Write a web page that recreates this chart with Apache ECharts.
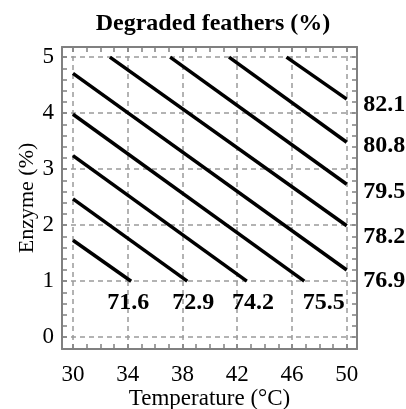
<!DOCTYPE html>
<html>
<head>
<meta charset="utf-8">
<script src="https://cdn.jsdelivr.net/npm/echarts@6/dist/echarts.min.js"></script>
<style>html,body{margin:0;padding:0;background:#fff}#c{width:406px;height:409px}</style>
</head>
<body>
<div id="c"></div>
<script>
// Axis ranges and ticks
var xRange = [29.2, 50.75];
var yRange = [-0.21, 5.18];
var xTickLabels = [30, 34, 38, 42, 46, 50];
var xMinorTicks = [30,31,32,33,34,35,36,37,38,39,40,41,42,43,44,45,46,47,48,49,50];
var yTickLabels = [0, 1, 2, 3, 4, 5];
var yMinorTicks = [0,0.2,0.4,0.6,0.8,1,1.2,1.4,1.6,1.8,2,2.2,2.4,2.6,2.8,3,3.2,3.4,3.6,3.8,4,4.2,4.4,4.6,4.8,5];

// Contour levels and their line end points [temperature, enzyme]
var levels = ['71.6','72.9','74.2','75.5','76.9','78.2','79.5','80.8','82.1'];
var line716 = [[30,1.73],[34.25,1]];
var line729 = [[30,2.47],[38.35,1]];
var line742 = [[30,3.24],[42.7,1]];
var line755 = [[30,3.98],[46.9,1]];
var line769 = [[30,4.71],[50,1.2]];
var line782 = [[32.7,5],[50,1.99]];
var line795 = [[37.1,5],[50,2.73]];
var line808 = [[41.4,5],[50,3.48]];
var line821 = [[45.6,5],[50,4.25]];
var contourLines = [line716,line729,line742,line755,line769,line782,line795,line808,line821];

// Contour label anchor points
var bottomLabelX = [34.04, 38.78, 43.16, 48.33];
var bottomLabelY = [0.61, 0.61, 0.61, 0.61];
var bottomLabelText = ['71.6','72.9','74.2','75.5'];
var rightLabelX = [51.2, 51.2, 51.2, 51.2, 51.2];
var rightLabelY = [1.01, 1.8, 2.6, 3.41, 4.15];
var rightLabelText = ['76.9','78.2','79.5','80.8','82.1'];

var FONT = 'Liberation Serif';
var frameColor = '#808080';
var gridColor = '#9a9a9a';

function frameAxis(pos, isX, showLabel) {
  return {
    type: 'value', position: pos,
    min: isX ? xRange[0] : yRange[0], max: isX ? xRange[1] : yRange[1],
    axisLine: {show: true, onZero: false, lineStyle: {color: frameColor, width: 2}},
    axisTick: {show: true, inside: true, length: 5, customValues: isX ? xMinorTicks : yMinorTicks,
               lineStyle: {color: frameColor, width: 1.5}},
    axisLabel: showLabel ? {show: true, customValues: isX ? xTickLabels : yTickLabels,
               fontFamily: FONT, fontSize: 23, color: '#000', margin: isX ? 14 : 8} : {show: false},
    splitLine: {show: false}
  };
}
function gridAxis(pos, isX) {
  return {
    type: 'value', position: pos,
    min: isX ? xRange[0] : yRange[0], max: isX ? xRange[1] : yRange[1],
    axisLine: {show: false}, axisLabel: {show: false},
    axisTick: {show: false, customValues: isX ? xTickLabels : yTickLabels},
    splitLine: {show: true, lineStyle: {color: gridColor, width: 1.5, type: [5, 4]}}
  };
}

var xb = frameAxis('bottom', true, true);
xb.name = 'Temperature (°C)';
xb.nameLocation = 'middle';
xb.nameGap = 38;
xb.nameMoveOverlap = false;
xb.nameTextStyle = {fontFamily: FONT, fontSize: 23, color: '#000'};
var yl = frameAxis('left', false, true);
yl.name = 'Enzyme (%)';
yl.nameLocation = 'middle';
yl.nameGap = 24;
yl.nameMoveOverlap = false;
yl.nameTextStyle = {fontFamily: FONT, fontSize: 22, color: '#000'};

var series = [];
for (var i = 0; i < contourLines.length; i++) {
  series.push({
    type: 'line', name: levels[i], data: contourLines[i], xAxisIndex: 0, yAxisIndex: 0,
    showSymbol: false, symbol: 'none', silent: true, clip: false,
    lineStyle: {color: '#000', width: 3.5}
  });
}
var labelData = [];
for (var j = 0; j < bottomLabelX.length; j++) labelData.push({value: [bottomLabelX[j], bottomLabelY[j]], name: bottomLabelText[j], label: {align: 'center'}});
for (var k = 0; k < rightLabelX.length; k++) labelData.push({value: [rightLabelX[k], rightLabelY[k]], name: rightLabelText[k], label: {align: 'left'}});
series.push({
  type: 'scatter', data: labelData, symbolSize: 0, clip: false, silent: true,
  itemStyle: {color: '#000', opacity: 1},
  label: {show: true, position: 'inside', formatter: function(p){return p.name;},
          fontFamily: FONT, fontSize: 24, fontWeight: 'bold', color: '#000',
          textBorderWidth: 0, opacity: 1}
});

var chart = echarts.init(document.getElementById('c'), null, {renderer: 'canvas'});
chart.setOption({
  animation: false,
  backgroundColor: '#fff',
  title: {text: 'Degraded feathers (%)', left: 208, top: 7, textAlign: 'center',
          textStyle: {fontFamily: FONT, fontSize: 24, fontWeight: 'bold', color: '#000'}},
  grid: {left: 62, right: 49, top: 47, bottom: 60, containLabel: false, outerBoundsMode: 'none'},
  xAxis: [xb, frameAxis('top', true, false), gridAxis('bottom', true)],
  yAxis: [yl, frameAxis('right', false, false), gridAxis('left', false)],
  series: series
});
</script>
</body>
</html>
